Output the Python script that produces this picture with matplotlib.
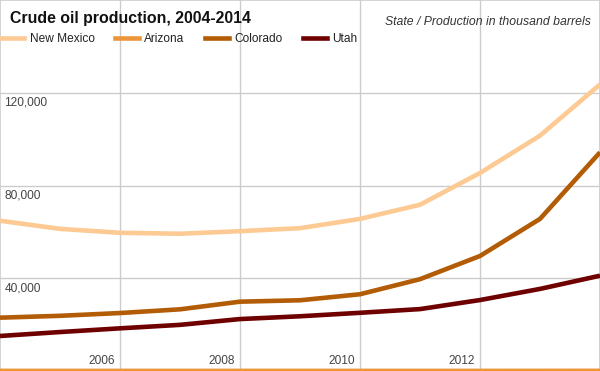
import matplotlib
matplotlib.use("Agg")
import matplotlib.pyplot as plt
import matplotlib.transforms as mtransforms
from matplotlib.lines import Line2D

plt.rcParams['font.family'] = ['Liberation Sans', 'DejaVu Sans']

# Data (thousand barrels)
years = [2004, 2005, 2006, 2007, 2008, 2009, 2010, 2011, 2012, 2013, 2014]
new_mexico = [64800, 61300, 59600, 59200, 60300, 61600, 65600, 71700, 85400, 101500, 123600]
arizona = [52, 46, 48, 45, 51, 53, 43, 42, 51, 58, 73]
colorado = [23000, 23800, 25000, 26600, 29900, 30500, 33100, 39600, 49600, 65600, 94300]
utah = [15100, 16800, 18400, 19900, 22400, 23600, 25100, 26700, 30600, 35400, 41100]

series = [("New Mexico", new_mexico, "#fdca94"),
          ("Arizona", arizona, "#ec9639"),
          ("Colorado", colorado, "#b35c06"),
          ("Utah", utah, "#6e0000")]

y_ticks = [40000, 80000, 120000]
x_ticks = [2006, 2008, 2010, 2012]

fig = plt.figure(figsize=(6, 3.71), dpi=100)
ax = fig.add_axes([0, 0, 1, 1])
ax.set_xlim(2004, 2014)
ax.set_ylim(0, 160000)

# grid
for yv in y_ticks:
    ax.axhline(yv, color="#cccccc", lw=1, zorder=0)
for xv in x_ticks + [2014]:
    ax.axvline(xv, color="#cccccc", lw=1, zorder=0)
for s in ax.spines.values():
    s.set_color("#cccccc")
    s.set_linewidth(1.2)
ax.set_xticks([])
ax.set_yticks([])

# lines (Arizona on top so it shows along the bottom edge)
order = [0, 2, 3, 1]
for i in order:
    name, vals, col = series[i]
    ax.plot(years, vals, color=col, lw=3.3, solid_joinstyle="round",
            solid_capstyle="butt", zorder=3 + (i == 1))

# tick labels drawn inside the plot
ytrans = mtransforms.offset_copy(ax.transData, fig=fig, x=0, y=-10, units="dots")
ylab_tr = mtransforms.blended_transform_factory(ax.transAxes, ytrans)
for yv in y_ticks:
    ax.text(4.5 / 600, yv, "{:,}".format(yv), transform=ylab_tr,
            ha="left", va="center", fontsize=8.6, color="#444444")

xtrans = mtransforms.offset_copy(ax.transData, fig=fig, x=-5, y=0, units="dots")
xlab_tr = mtransforms.blended_transform_factory(xtrans, ax.transAxes)
for xv in x_ticks:
    ax.text(xv, 10 / 371, str(xv), transform=xlab_tr,
            ha="right", va="center", fontsize=8.6, color="#444444")

# title and subtitle
fig.text(10 / 600, 1 - 19 / 371, "Crude oil production, 2004-2014", fontsize=11.4,
         fontweight="bold", color="#111111", ha="left", va="center")
fig.text(591 / 600, 1 - 22 / 371, "State / Production in thousand barrels", fontsize=8.8,
         style="italic", color="#333333", ha="right", va="center")

# legend
handles = [Line2D([0], [0], color=c, lw=3.3) for _, _, c in series]
labels = [n for n, _, _ in series]
leg = fig.legend(handles, labels, loc="center left", bbox_to_anchor=(0, 1 - 39 / 371),
                 ncol=4, frameon=False, fontsize=8.6, handlelength=2.05,
                 handletextpad=0.42, columnspacing=1.7, borderpad=0, borderaxespad=0)
for t in leg.get_texts():
    t.set_color("#222222")

fig.savefig("out.png", dpi=100)
